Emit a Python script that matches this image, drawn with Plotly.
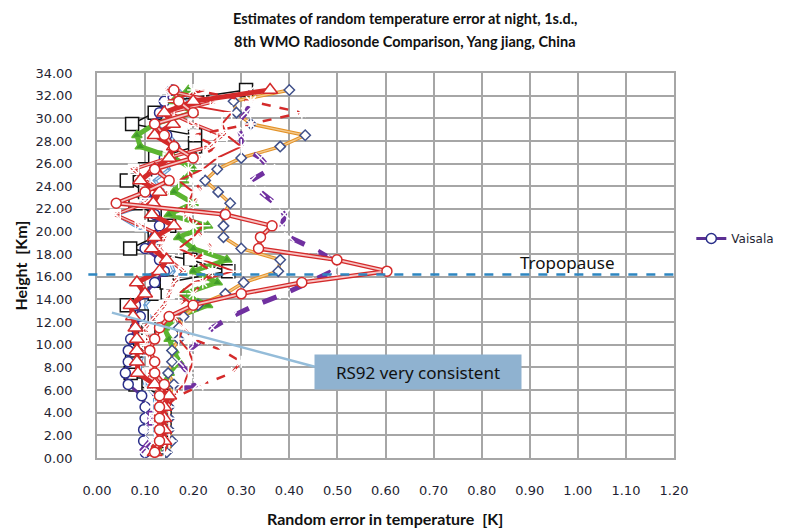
import plotly.graph_objects as go

# Heights (km) of the 1-km layers
height = [0.5, 1.5, 2.5, 3.5, 4.5, 5.5, 6.5, 7.5, 8.5, 9.5, 10.5, 11.5, 12.5, 13.5, 14.5, 15.5, 16.5,
          17.5, 18.5, 19.5, 20.5, 21.5, 22.5, 23.5, 24.5, 25.5, 26.5, 27.5, 28.5, 29.5, 30.5, 31.5, 32.5]

# Random error (K) per radiosonde type
light_blue = [0.11, 0.12, 0.12, 0.12, 0.12, 0.12, 0.10, 0.09, 0.09, 0.10, 0.11, 0.12, 0.11, 0.10, 0.12, 0.14, 0.16,
              0.15, 0.12, 0.13, 0.08, 0.04, 0.11, 0.14, 0.12, 0.15, 0.14, 0.17, 0.15, 0.12, 0.20, 0.19, 0.17]
black_sq = [0.13, 0.14, 0.14, 0.14, 0.14, 0.14, 0.08, 0.07, 0.073, 0.08, 0.09, 0.107, 0.093, 0.062, 0.12, 0.145, 0.273,
            0.194, 0.069, 0.12, 0.15, 0.12, 0.08, 0.10, 0.062, 0.10, 0.121, 0.204, 0.204, 0.073, 0.12, 0.15, 0.31]
vaisala = [0.10, 0.097, 0.097, 0.10, 0.10, 0.093, 0.065, 0.059, 0.065, 0.065, 0.07, 0.08, 0.09, 0.08, 0.10, 0.12, 0.14,
           0.13, 0.10, 0.12, 0.13, 0.12, 0.10, 0.12, 0.10, 0.12, 0.14, 0.16, 0.145, 0.12, 0.13, 0.14, 0.156]
green = [0.13, 0.13, 0.13, 0.13, 0.13, 0.13, 0.14, 0.15, 0.17, 0.16, 0.15, 0.14, 0.17, 0.23, 0.18, 0.25, 0.20,
         0.27, 0.20, 0.17, 0.23, 0.15, 0.20, 0.16, 0.18, 0.20, 0.16, 0.09, 0.083, 0.12, 0.20, 0.16, 0.19]
orange = [0.145, 0.156, 0.15, 0.15, 0.15, 0.15, 0.16, 0.148, 0.156, 0.156, 0.17, 0.17, 0.18, 0.21, 0.267, 0.305, 0.377,
          0.381, 0.30, 0.263, 0.263, 0.263, 0.277, 0.252, 0.225, 0.25, 0.30, 0.381, 0.433, 0.32, 0.29, 0.284, 0.40]
purple = [0.09, 0.11, 0.11, 0.11, 0.11, 0.12, 0.21, 0.19, 0.17, 0.19, 0.22, 0.24, 0.28, 0.33, 0.39, 0.44, 0.49,
          0.49, 0.45, 0.40, 0.385, 0.39, 0.37, 0.34, 0.32, 0.36, 0.34, 0.30, 0.30, 0.29, 0.31, 0.32, 0.32]
red_plus = [0.14, 0.15, 0.15, 0.15, 0.15, 0.16, 0.18, 0.19, 0.20, 0.19, 0.17, 0.18, 0.163, 0.20, 0.17, 0.20, 0.284,
            0.22, 0.17, 0.20, 0.22, 0.18, 0.19, 0.20, 0.17, 0.22, 0.25, 0.30, 0.27, 0.26, 0.28, 0.145, 0.225]
red_sqx = [0.12, 0.13, 0.13, 0.12, 0.13, 0.14, 0.11, 0.11, 0.12, 0.10, 0.107, 0.10, 0.12, 0.14, 0.15, 0.16, 0.18,
           0.15, 0.13, 0.14, 0.09, 0.038, 0.10, 0.14, 0.10, 0.076, 0.148, 0.232, 0.26, 0.20, 0.15, 0.246, 0.142]
red_star = [0.11, 0.12, 0.13, 0.13, 0.14, 0.17, 0.22, 0.28, 0.30, 0.26, 0.20, 0.18, 0.16, 0.17, 0.20, 0.22, 0.24,
            0.20, 0.24, 0.22, 0.20, 0.19, 0.20, 0.22, 0.20, 0.19, 0.21, 0.25, 0.20, 0.32, 0.426, 0.32, 0.20]
red_tri = [0.12, 0.14, 0.14, 0.14, 0.14, 0.15, 0.12, 0.085, 0.083, 0.083, 0.083, 0.08, 0.075, 0.07, 0.10, 0.083, 0.13,
           0.145, 0.114, 0.12, 0.16, 0.114, 0.117, 0.13, 0.09, 0.12, 0.15, 0.16, 0.12, 0.158, 0.14, 0.20, 0.36]
red_circ = [0.12, 0.13, 0.13, 0.13, 0.13, 0.13, 0.14, 0.12, 0.12, 0.11, 0.12, 0.13, 0.15, 0.20, 0.30, 0.426, 0.603,
            0.499, 0.336, 0.34, 0.364, 0.267, 0.04, 0.10, 0.15, 0.12, 0.20, 0.16, 0.14, 0.12, 0.20, 0.17, 0.16]

tropopause = 16.2

RED = "#d42a2a"

fig = go.Figure()


def add(x, name, color, width, symbol, msize, mfill="white", mline=None, dash="solid", legend=False, inner=None):
    if inner:
        # Excel "double" line: wide coloured stroke with a pale core
        fig.add_trace(go.Scatter(x=x, y=height, mode="lines", showlegend=False, hoverinfo="skip",
                                 line=dict(color=color, width=width)))
        fig.add_trace(go.Scatter(x=x, y=height, mode="lines", showlegend=False, hoverinfo="skip",
                                 line=dict(color=inner, width=width * 0.4)))
        fig.add_trace(go.Scatter(x=x, y=height, mode="markers", name=name, showlegend=legend,
                                 marker=dict(symbol=symbol, size=msize, color=mfill,
                                             line=dict(color=mline or color, width=1.5))))
        return
    fig.add_trace(go.Scatter(
        x=x, y=height, mode="lines+markers", name=name, showlegend=legend,
        line=dict(color=color, width=width, dash=dash),
        marker=dict(symbol=symbol, size=msize, color=mfill,
                    line=dict(color=mline or color, width=1.5)),
    ))


add(light_blue, "light blue", "#5f98d0", 3.5, "circle", 1, inner="#dce9f5")
add(black_sq, "black", "#111111", 1.5, "square", 13)
add(vaisala, "Vaisala", "#5b2f93", 3, "circle", 10, mline="#2a2f8a", legend=True)
add(green, "green", "#5cb531", 5, "triangle-up", 9, mfill="#3f9a2a")
add(orange, "orange", "#e39126", 3.5, "diamond", 8, mline="#40508a", inner="#f4c98c")
add(purple, "purple", "#7030a0", 5, "x-thin-open", 10, dash="dash")
add(red_plus, "red plus", RED, 2, "cross-thin-open", 11)
add(red_sqx, "red square", RED, 3.5, "square-x-open", 10, inner="#f2b8b8")
add(red_star, "red star", RED, 2.5, "asterisk-open", 10, dash="dash")
add(red_tri, "red triangle", RED, 5, "triangle-up", 13)
add(red_circ, "red circle", RED, 4.5, "circle", 10, inner="#f6c4c4")

# tropopause line
fig.add_shape(type="line", xref="paper", yref="y", x0=-0.015, x1=1.01, y0=tropopause, y1=tropopause,
              line=dict(color="#2e86c1", width=2.5, dash="dash"))
fig.add_annotation(x=0.978, y=17.3, text="Tropopause", showarrow=False,
                   font=dict(family="Noto Sans", size=17, color="#111111"))

# RS92 callout
fig.add_shape(type="line", xref="x", yref="y", x0=0.031, y0=12.84, x1=0.453, y1=8.06,
              line=dict(color="#94bcd9", width=2.5))
fig.add_annotation(x=0.668, y=7.6, text="RS92 very consistent", showarrow=False,
                   width=204, height=32, bgcolor="#8fb2d0",
                   font=dict(family="Noto Sans", size=17, color="#111111"))

bold = "Lato, sans-serif"

# title lines and axis titles
fig.add_annotation(xref="paper", yref="paper", x=0.534, y=1.1416, showarrow=False,
                   xanchor="center", yanchor="middle",
                   text="<b>Estimates of random temperature error at night, 1s.d.,</b>",
                   font=dict(family=bold, size=14.5, color="#111111"))
fig.add_annotation(xref="paper", yref="paper", x=0.534, y=1.0818, showarrow=False,
                   xanchor="center", yanchor="middle",
                   text="<b>8th WMO Radiosonde Comparison, Yang jiang, China</b>",
                   font=dict(family=bold, size=14.5, color="#111111"))
fig.add_annotation(xref="paper", yref="paper", x=0.499, y=-0.158, showarrow=False,
                   xanchor="center", yanchor="middle",
                   text="<b>Random error in temperature  [K]</b>",
                   font=dict(family=bold, size=16, color="#111111"))
fig.add_annotation(xref="paper", yref="paper", x=-0.1334, y=0.5, showarrow=False, textangle=-90,
                   xanchor="center", yanchor="middle",
                   text="<b>Height  [Km]</b>",
                   font=dict(family=bold, size=16, color="#111111"))

tick_font = dict(family="DejaVu Sans", size=13, color="#1f1f33")

fig.update_layout(
    width=788, height=522,
    margin=dict(l=89, r=122, t=65, b=72, autoexpand=False),
    paper_bgcolor="white", plot_bgcolor="white",
    legend=dict(x=1.03, y=0.57, xanchor="left", yanchor="middle",
                font=dict(family="DejaVu Sans", size=12, color="#1f1f33"), bgcolor="rgba(0,0,0,0)"),
    showlegend=True,
)
fig.update_xaxes(range=[0, 1.2], dtick=0.1, tick0=0, tickformat=".2f", automargin=False,
                 showgrid=True, gridcolor="#a6a6a6", gridwidth=1.5,
                 showline=True, linecolor="#a6a6a6", linewidth=1.5, mirror=True,
                 zeroline=False, tickfont=tick_font, ticklabelstandoff=20)
fig.update_yaxes(range=[0, 34], dtick=2, tick0=0, tickformat=".2f", automargin=False,
                 showgrid=True, gridcolor="#a6a6a6", gridwidth=1.5,
                 showline=True, linecolor="#a6a6a6", linewidth=1.5, mirror=True,
                 zeroline=False, tickfont=tick_font, ticklabelstandoff=20)

fig.write_html("out.html")
